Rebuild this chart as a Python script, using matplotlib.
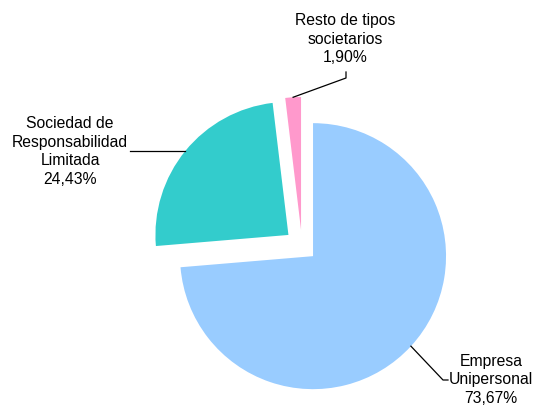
import numpy as np
import matplotlib
matplotlib.use("Agg")
import matplotlib.pyplot as plt

categories = ["Empresa\nUnipersonal", "Sociedad de\nResponsabilidad\nLimitada", "Resto de tipos\nsocietarios"]
values = [73.67, 24.43, 1.90]
value_labels = ["73,67%", "24,43%", "1,90%"]
colors = ["#99CCFF", "#33CCCC", "#FF99CC"]

W, H = 538, 406
fig = plt.figure(figsize=(W / 100, H / 100), dpi=100)
ax = fig.add_axes([0, 0, 1, 1])

R = 133
center = (302, H - 247)
explode = [15, 17.5, 16]

wedges, _ = ax.pie(values, colors=colors, startangle=90, counterclock=False,
                   radius=R, center=center, explode=explode,
                   wedgeprops=dict(linewidth=0))
ax.set_xlim(0, W)
ax.set_ylim(0, H)
ax.set_aspect("equal")
ax.axis("off")

fam = ["Liberation Sans", "DejaVu Sans"]
plt.rcParams["font.family"] = fam
fs = 11.3
ls = 1.33

def arc_point(w):
    th = np.deg2rad(0.5 * (w.theta1 + w.theta2))
    cx, cy = w.center
    return cx + w.r * np.cos(th), cy + w.r * np.sin(th)

# Empresa Unipersonal
x0, y0 = arc_point(wedges[0])
ax.plot([x0, 443, 448], [y0, H - 381, H - 381], color="black", lw=0.9)
ax.text(491, H - 380, categories[0] + "\n" + value_labels[0], ha="center", va="center",
        fontsize=fs, linespacing=ls, family=fam)

# Sociedad de Responsabilidad Limitada
x1, y1 = arc_point(wedges[1])
ax.plot([x1, 130], [y1, y1], color="black", lw=0.9)
ax.text(70, H - 151.5, categories[1] + "\n" + value_labels[1], ha="center", va="center",
        fontsize=fs, linespacing=ls, family=fam)

# Resto
x2, y2 = arc_point(wedges[2])
ax.plot([x2, 346, 346], [y2, H - 79, H - 73], color="black", lw=0.9)
ax.text(345, H - 39, categories[2] + "\n" + value_labels[2], ha="center", va="center",
        fontsize=fs, linespacing=ls, family=fam)

fig.savefig("out.png", dpi=100)
